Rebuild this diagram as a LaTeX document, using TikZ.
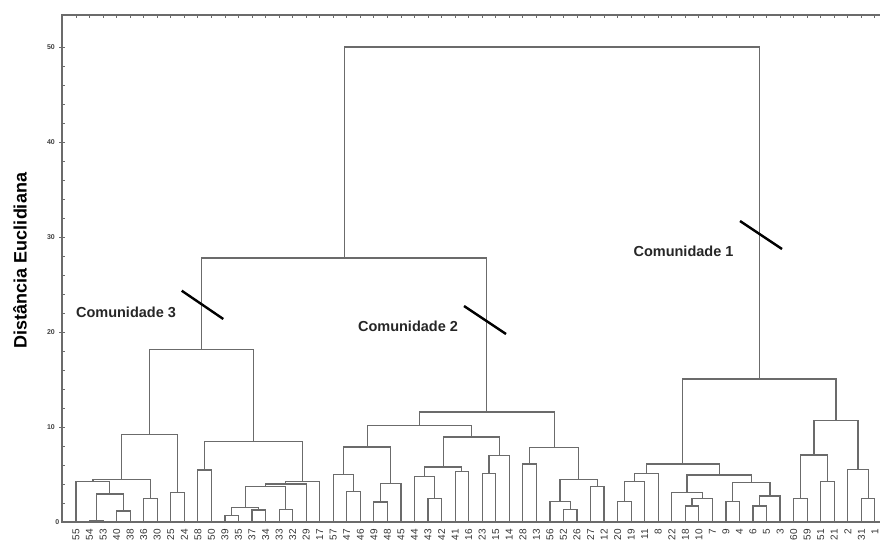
\documentclass[tikz,border=0pt]{standalone}
\usepackage{fontspec}
\setmainfont{Liberation Sans}
\usetikzlibrary{calc}
\newcommand\dmerge[4]{%
  \path let \p1=(#2), \p2=(#3) in coordinate (#1) at ({0.5*\x1+0.5*\x2}, {(28+9.5*#4)*1pt});
  \draw[dline] (#2) |- (#1) -| (#3);
}
\begin{document}
\begin{tikzpicture}[x=1pt,y=1pt,
  dline/.style={draw=black!58, line width=1.2pt},
  axisline/.style={draw=black!58, line width=1.2pt},
  tickline/.style={draw=black!58, line width=0.8pt},
  leaflab/.style={font=\fontsize{10}{10}\selectfont, text=black!80, rotate=90, anchor=east, inner sep=0pt},
  ticklab/.style={font=\bfseries\fontsize{7}{7}\selectfont, text=black!75, anchor=east, inner sep=0pt},
  comlab/.style={font=\bfseries\fontsize{14.5}{14.5}\selectfont, text=black!85, inner sep=0pt},
  ytitle/.style={font=\bfseries\fontsize{18}{18}\selectfont, text=black, rotate=90, inner sep=0pt},
  slash/.style={draw=black, line width=2.4pt},
]
\useasboundingbox (0,0) rectangle (880,550);
% axes and frame
\coordinate (o) at (62,28);
\coordinate (tl) at (62,535);
\coordinate (tr) at (880,535);
\coordinate (br) at (880,28);
\draw[axisline] (br) -- (o) -- (tl) -- (tr);
% y ticks
\foreach \h in {0,2,...,50} {
  \draw[tickline] (62,{28+9.5*\h}) -- (65,{28+9.5*\h});
}
\foreach \h in {10,20,30,40,50} {
  \draw[tickline] (59,{28+9.5*\h}) -- (62,{28+9.5*\h});
  \node[ticklab] (yl\h) at (55,{28+9.5*\h}) {\h};
}
\node[ticklab] (yl0) at (59.5,28) {0};
% leaves
\foreach \n [count=\i from 0] in {55,54,53,40,38,36,30,25,24,58,50,39,35,37,34,33,32,29,17,57,47,46,49,48,45,44,43,42,41,16,23,15,14,28,13,56,52,26,27,12,20,19,11,8,22,18,10,7,9,4,6,5,3,60,59,51,21,2,31,1} {
  \coordinate (l\n) at ({76+13.54*\i},28);
  \node[leaflab] (t\n) at ({76+13.54*\i},21) {\n};
  \draw[tickline] ({76+13.54*\i},535) -- ({76+13.54*\i},531.5);
}
% Comunidade 3
\dmerge{cA}{l54}{l53}{0.2}
\dmerge{cB}{l40}{l38}{1.16}
\dmerge{cC}{cA}{cB}{2.95}
\dmerge{cD}{l55}{cC}{4.3}
\dmerge{cE}{l36}{l30}{2.5}
\dmerge{cF}{cD}{cE}{4.5}
\dmerge{cG}{l25}{l24}{3.1}
\dmerge{cH}{cF}{cG}{9.2}
\dmerge{cI}{l58}{l50}{5.47}
\dmerge{cAb}{l39}{l35}{0.66}
\dmerge{cL}{l37}{l34}{1.26}
\dmerge{cM}{cAb}{cL}{1.5}
\dmerge{cN}{l33}{l32}{1.3}
\dmerge{cMN}{cM}{cN}{3.7}
\dmerge{cKa}{cMN}{l29}{4.0}
\dmerge{cK}{cKa}{l17}{4.3}
\dmerge{cJ}{cI}{cK}{8.5}
\dmerge{cCiii}{cH}{cJ}{18.2}
% Comunidade 2
\dmerge{cP}{l47}{l46}{3.2}
\dmerge{cQ}{l57}{cP}{5.0}
\dmerge{cT}{l49}{l48}{2.1}
\dmerge{cU}{cT}{l45}{4.07}
\dmerge{cR}{cQ}{cU}{7.9}
\dmerge{cV}{l43}{l42}{2.5}
\dmerge{cW}{l44}{cV}{4.8}
\dmerge{cX}{l41}{l16}{5.3}
\dmerge{cY}{cW}{cX}{5.8}
\dmerge{cZa}{l23}{l15}{5.1}
\dmerge{cZb}{cZa}{l14}{6.98}
\dmerge{cAA}{cY}{cZb}{8.95}
\dmerge{cBB}{cR}{cAA}{10.2}
\dmerge{cCC}{l28}{l13}{6.1}
\dmerge{cII}{l52}{l26}{1.34}
\dmerge{cGG}{l56}{cII}{2.14}
\dmerge{cHH}{l27}{l12}{3.7}
\dmerge{cFF}{cGG}{cHH}{4.5}
\dmerge{cDD}{cCC}{cFF}{7.86}
\dmerge{cCii}{cBB}{cDD}{11.58}
% Comunidades 2+3
\dmerge{cTop}{cCiii}{cCii}{27.8}
% Comunidade 1
\dmerge{cJJ}{l20}{l19}{2.14}
\dmerge{cKK}{cJJ}{l11}{4.3}
\dmerge{cLL}{cKK}{l8}{5.13}
\dmerge{cRR}{l18}{l10}{1.68}
\dmerge{cQQ}{cRR}{l7}{2.5}
\dmerge{cOO}{l22}{cQQ}{3.08}
\dmerge{cSS}{l9}{l4}{2.14}
\dmerge{cUU}{l6}{l5}{1.68}
\dmerge{cTT}{cUU}{l3}{2.74}
\dmerge{cPP}{cSS}{cTT}{4.14}
\dmerge{cNN}{cOO}{cPP}{4.95}
\dmerge{cMM}{cLL}{cNN}{6.1}
\dmerge{cVV}{l60}{l59}{2.5}
\dmerge{cWW}{l51}{l21}{4.3}
\dmerge{cXX}{cVV}{cWW}{7.05}
\dmerge{cZZ}{l31}{l1}{2.5}
\dmerge{cYY}{l2}{cZZ}{5.55}
\dmerge{cAAA}{cXX}{cYY}{10.7}
\dmerge{cCi}{cMM}{cAAA}{15.05}
% root
\dmerge{cRoot}{cTop}{cCi}{50}
% labels
\node[ytitle] (yt) at (20,289.5) {Distância Euclidiana};
\node[comlab] (k3) at (126,238) {Comunidade 3};
\node[comlab] (k2) at (408,224) {Comunidade 2};
\node[comlab] (k1) at (683.5,299) {Comunidade 1};
% cut marks
\coordinate (s3a) at (181.7,259.3); \coordinate (s3b) at (223.3,231);
\coordinate (s2a) at (464,244);     \coordinate (s2b) at (506,216);
\coordinate (s1a) at (740,329);     \coordinate (s1b) at (782,301);
\draw[slash] (s3a) -- (s3b);
\draw[slash] (s2a) -- (s2b);
\draw[slash] (s1a) -- (s1b);
\end{tikzpicture}
\end{document}
